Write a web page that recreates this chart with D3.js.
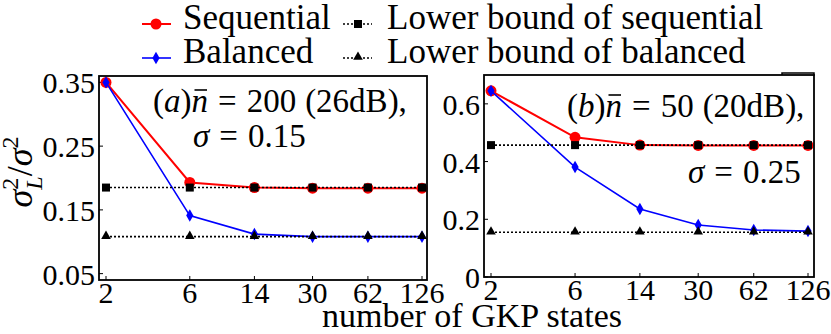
<!DOCTYPE html>
<html><head><meta charset="utf-8">
<script src="https://cdn.jsdelivr.net/npm/d3@7"></script>
<style>svg text, svg tspan { font-family: "Liberation Serif", Tinos, "Times New Roman", serif !important; }</style>
</head><body style="margin:0">
<svg id="c" width="831" height="334" style="font-family:'Liberation Serif', Tinos, serif"></svg>
<script>
const gkpStates = [2, 6, 14, 30, 62, 126];
const xTickLabels = ["2", "6", "14", "30", "62", "126"];
// panel (a)
const seqA = [0.350, 0.193, 0.185, 0.184, 0.184, 0.184];
const balA = [0.350, 0.141, 0.112, 0.108, 0.108, 0.108];
const lbSeqA = [0.185, 0.185, 0.185, 0.185, 0.185, 0.185];
const lbBalA = [0.108, 0.108, 0.108, 0.108, 0.108, 0.108];
const yTicksA = [0.05, 0.15, 0.25, 0.35];
const yTickLabelsA = ["0.05", "0.15", "0.25", "0.35"];
// panel (b)
const seqB = [0.645, 0.484, 0.457, 0.456, 0.456, 0.456];
const balB = [0.645, 0.381, 0.236, 0.180, 0.163, 0.159];
const lbSeqB = [0.457, 0.457, 0.457, 0.457, 0.457, 0.457];
const lbBalB = [0.155, 0.155, 0.155, 0.155, 0.155, 0.155];
const yTicksB = [0, 0.2, 0.4, 0.6];
const yTickLabelsB = ["0", "0.2", "0.4", "0.6"];
const legendLabels = ["Sequential", "Balanced", "Lower bound of sequential", "Lower bound of balanced"];

const svg = d3.select("#c");
function txt(sel, size) {
  return sel.append("text").attr("font-family", "Liberation Serif").style("font-family", "Liberation Serif").attr("font-size", size);
}

function panel(cfg) {
  const {left, right, top, bottom, x0, x1, yDomain, yTicks, yLabels, seq, bal, lbS, lbB} = cfg;
  const x = d3.scaleLog().domain([2, 126]).range([x0, x1]);
  const y = d3.scaleLinear().domain(yDomain).range([bottom, top]);
  const g = svg.append("g");
  gkpStates.forEach((d, i) => {
    g.append("line").attr("x1", x(d)).attr("x2", x(d)).attr("y1", bottom).attr("y2", bottom - 4).attr("stroke", "#000");
    txt(g, 30).attr("x", x(d)).attr("y", bottom + 23).attr("text-anchor", "middle").text(xTickLabels[i]);
  });
  yTicks.forEach((d, i) => {
    g.append("line").attr("x1", left).attr("x2", left + 4).attr("y1", y(d)).attr("y2", y(d)).attr("stroke", "#000");
    txt(g, 30).attr("x", left - 4).attr("y", y(d) + 11).attr("text-anchor", "end").text(yLabels[i]);
  });

  const line = d3.line().x((d, i) => x(gkpStates[i])).y(d => y(d));
  g.append("path").attr("d", line(seq)).attr("fill", "none").attr("stroke", "#ff0000").attr("stroke-width", 2);
  g.selectAll(".sm").data(seq).join("circle")
    .attr("cx", (d, i) => x(gkpStates[i])).attr("cy", d => y(d)).attr("r", 5.5).attr("fill", "#ff0000");
  g.append("path").attr("d", line(bal)).attr("fill", "none").attr("stroke", "#0000ff").attr("stroke-width", 1.6);
  const dia = d3.symbol().type(d3.symbolDiamond).size(45);
  g.selectAll(".bm").data(bal).join("path")
    .attr("d", dia).attr("transform", (d, i) => `translate(${x(gkpStates[i])},${y(d)})`).attr("fill", "#0000ff");
  g.append("path").attr("d", line(lbS)).attr("fill", "none").attr("stroke", "#000").attr("stroke-width", 1.6).attr("stroke-dasharray", "2,2");
  g.selectAll(".lsm").data(lbS).join("rect")
    .attr("x", (d, i) => x(gkpStates[i]) - 4).attr("y", d => y(d) - 4).attr("width", 8).attr("height", 8).attr("fill", "#000");
  g.append("path").attr("d", line(lbB)).attr("fill", "none").attr("stroke", "#000").attr("stroke-width", 1.6).attr("stroke-dasharray", "2,2");
  const tri = d3.symbol().type(d3.symbolTriangle).size(40);
  g.selectAll(".lbm").data(lbB).join("path")
    .attr("d", tri).attr("transform", (d, i) => `translate(${x(gkpStates[i])},${y(d) - 0.5})`).attr("fill", "#000");

  g.append("rect").attr("x", left).attr("y", top).attr("width", right - left).attr("height", bottom - top)
    .attr("fill", "none").attr("stroke", "#000").attr("stroke-width", 1.8);
}

panel({left: 99, right: 427, top: 76, bottom: 280, x0: 106, x1: 422,
  yDomain: [0.04, 0.36], yTicks: yTicksA, yLabels: yTickLabelsA, seq: seqA, bal: balA, lbS: lbSeqA, lbB: lbBalA});
panel({left: 484, right: 814, top: 75, bottom: 277, x0: 491, x1: 808,
  yDomain: [0, 0.7], yTicks: yTicksB, yLabels: yTickLabelsB, seq: seqB, bal: balB, lbS: lbSeqB, lbB: lbBalB});
svg.append("path").attr("d", "M782,75 L782,73 L814,73 L814,76").attr("fill", "none").attr("stroke", "#000").attr("stroke-width", 1.5);

function annot(x, yb, letter, nbar, db) {
  const t = txt(svg, 33).attr("x", x).attr("y", yb);
  t.append("tspan").text("(");
  t.append("tspan").style("font-style", "italic").text(letter);
  t.append("tspan").text(")");
  const n = t.append("tspan").style("font-style", "italic").text("n");
  t.append("tspan").attr("dx", 10).text("=");
  t.append("tspan").attr("dx", 10).text(nbar);
  t.append("tspan").attr("dx", 9).text("(" + db + "),");
  const bb = n.node().getExtentOfChar(0);
  svg.append("line").attr("x1", bb.x + 3).attr("x2", bb.x + bb.width - 1)
    .attr("y1", yb - 22).attr("y2", yb - 22).attr("stroke", "#000").attr("stroke-width", 1.6);
}
function sig(x, yb, val) {
  const t = txt(svg, 33).attr("x", x).attr("y", yb);
  t.append("tspan").style("font-style", "italic").text("σ");
  t.append("tspan").attr("dx", 10).text("=");
  t.append("tspan").attr("dx", 10).text(val);
}
annot(153, 112, "a", "200", "26dB");
sig(193, 147, "0.15");
annot(567, 117, "b", "50", "20dB");
sig(688, 183, "0.25");

txt(svg, 34).attr("x", 472).attr("y", 327).attr("text-anchor", "middle").text("number of GKP states");
const yl = txt(svg, 36).attr("transform", "translate(32,172) rotate(-90)").attr("text-anchor", "middle");
yl.append("tspan").style("font-style", "italic").text("σ");
yl.append("tspan").attr("dy", -14).attr("font-size", 24).text("2");
yl.append("tspan").attr("dx", -12).attr("dy", 24).attr("font-size", 24).style("font-style", "italic").text("L");
yl.append("tspan").attr("dy", -10).text("/");
yl.append("tspan").style("font-style", "italic").text("σ");
yl.append("tspan").attr("dy", -14).attr("font-size", 24).text("2");

const lg = svg.append("g");
const lgRows = [29, 63];
const hx = [[142, 171], [343, 372]];
lg.append("line").attr("x1", hx[0][0]).attr("x2", hx[0][1]).attr("y1", lgRows[0] - 5).attr("y2", lgRows[0] - 5).attr("stroke", "#ff0000").attr("stroke-width", 2);
lg.append("circle").attr("cx", 156).attr("cy", lgRows[0] - 5).attr("r", 5.5).attr("fill", "#ff0000");
lg.append("line").attr("x1", hx[0][0]).attr("x2", hx[0][1]).attr("y1", lgRows[1] - 5).attr("y2", lgRows[1] - 5).attr("stroke", "#0000ff").attr("stroke-width", 1.6);
lg.append("path").attr("d", d3.symbol().type(d3.symbolDiamond).size(45)).attr("transform", `translate(156,${lgRows[1] - 5})`).attr("fill", "#0000ff");
lg.append("line").attr("x1", hx[1][0]).attr("x2", hx[1][1]).attr("y1", lgRows[0] - 5).attr("y2", lgRows[0] - 5).attr("stroke", "#000").attr("stroke-width", 1.4).attr("stroke-dasharray", "2,2");
lg.append("rect").attr("x", 354).attr("y", lgRows[0] - 9).attr("width", 8).attr("height", 8).attr("fill", "#000");
lg.append("line").attr("x1", hx[1][0]).attr("x2", hx[1][1]).attr("y1", lgRows[1] - 5).attr("y2", lgRows[1] - 5).attr("stroke", "#000").attr("stroke-width", 1.4).attr("stroke-dasharray", "2,2");
lg.append("path").attr("d", d3.symbol().type(d3.symbolTriangle).size(40)).attr("transform", `translate(358,${lgRows[1] - 6})`).attr("fill", "#000");
[[183, lgRows[0], 0], [183, lgRows[1], 1], [387, lgRows[0], 2], [387, lgRows[1], 3]].forEach(([x, y, i]) => {
  txt(lg, 35).attr("x", x).attr("y", y).text(legendLabels[i]);
});
</script>
</body></html>
